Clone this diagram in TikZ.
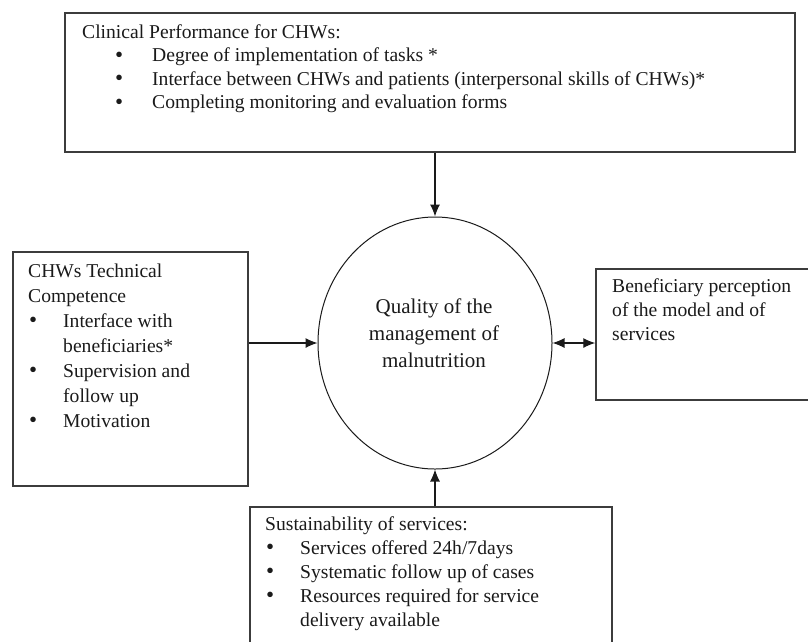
\documentclass[tikz,border=0pt]{standalone}
\usepackage{fontspec}
\setmainfont{Liberation Serif}
\usetikzlibrary{shapes.geometric,arrows.meta}
\definecolor{boxgray}{HTML}{3C3C3C}
\definecolor{inkblack}{HTML}{1A1A1A}
\newcommand\mybul[2]{\hspace*{#1}\makebox[#2][l]{\raisebox{-0.6pt}{\fontsize{23pt}{23pt}\selectfont\textbullet}}}
\tikzset{
  boxst/.style={draw=boxgray, line width=1.5pt, inner sep=0pt, rectangle},
  txt/.style={inner sep=0pt, anchor=base west, text=inkblack},
  arr/.style={draw=inkblack, line width=1.1pt, -{Latex[length=12pt,width=10pt]}},
  dblarr/.style={draw=inkblack, line width=1.1pt, {Latex[length=12pt,width=10pt]}-{Latex[length=12pt,width=10pt]}},
}
\begin{document}
\begin{tikzpicture}[x=1pt,y=-1pt]
\path[use as bounding box] (0,0) rectangle (808,641);
\clip (0,0) rectangle (808,641);
% boxes
\node[boxst, minimum width=730pt, minimum height=139pt] (clin) at (430,82.5) {};
\node[boxst, minimum width=235pt, minimum height=234pt] (tech) at (130.5,369) {};
\node[boxst, minimum width=224pt, minimum height=131pt] (benef) at (708,334.5) {};
\node[boxst, minimum width=362pt, minimum height=153pt] (sust) at (431,583.5) {};
\node[ellipse, draw=inkblack, line width=1pt, inner sep=0pt, minimum width=234pt, minimum height=252pt] (qual) at (435,343) {};
% texts
\node[txt] (clintxt) at (82,38) {\parbox[t]{710pt}{\fontsize{19.6pt}{23.5pt}\selectfont
Clinical Performance for CHWs:\\
\mybul{33pt}{37pt}Degree of implementation of tasks *\\
\mybul{33pt}{37pt}Interface between CHWs and patients (interpersonal skills of CHWs)*\\
\mybul{33pt}{37pt}Completing monitoring and evaluation forms}};
\node[txt] (techtxt) at (28,277) {\parbox[t]{215pt}{\fontsize{19.6pt}{25pt}\selectfont
CHWs Technical\\
Competence\\
\mybul{1pt}{34pt}Interface with\\
\hspace*{35pt}beneficiaries*\\
\mybul{1pt}{34pt}Supervision and\\
\hspace*{35pt}follow up\\
\mybul{1pt}{34pt}Motivation}};
\node[txt] (beneftxt) at (612,292.5) {\parbox[t]{190pt}{\fontsize{19.6pt}{24pt}\selectfont
Beneficiary perception\\
of the model and of\\
services}};
\node[txt] (susttxt) at (265,530) {\parbox[t]{340pt}{\fontsize{19.6pt}{24pt}\selectfont
Sustainability of services:\\
\mybul{1pt}{34pt}Services offered 24h/7days\\
\mybul{1pt}{34pt}Systematic follow up of cases\\
\mybul{1pt}{34pt}Resources required for service\\
\hspace*{35pt}delivery available}};
\node[inner sep=0pt, anchor=base, text=inkblack] (qualtxt) at (434,313) {\parbox[t]{200pt}{\centering\fontsize{21pt}{27pt}\selectfont
Quality of the\\
management of\\
malnutrition}};
% connectors
\draw[arr] (clin.south -| qual.north) -- (qual.north);
\draw[arr] (tech.east |- qual.west) -- (qual.west);
\draw[dblarr] (qual.east) -- (benef.west |- qual.east);
\draw[arr] (sust.north -| qual.south) -- (qual.south);
\end{tikzpicture}
\end{document}
